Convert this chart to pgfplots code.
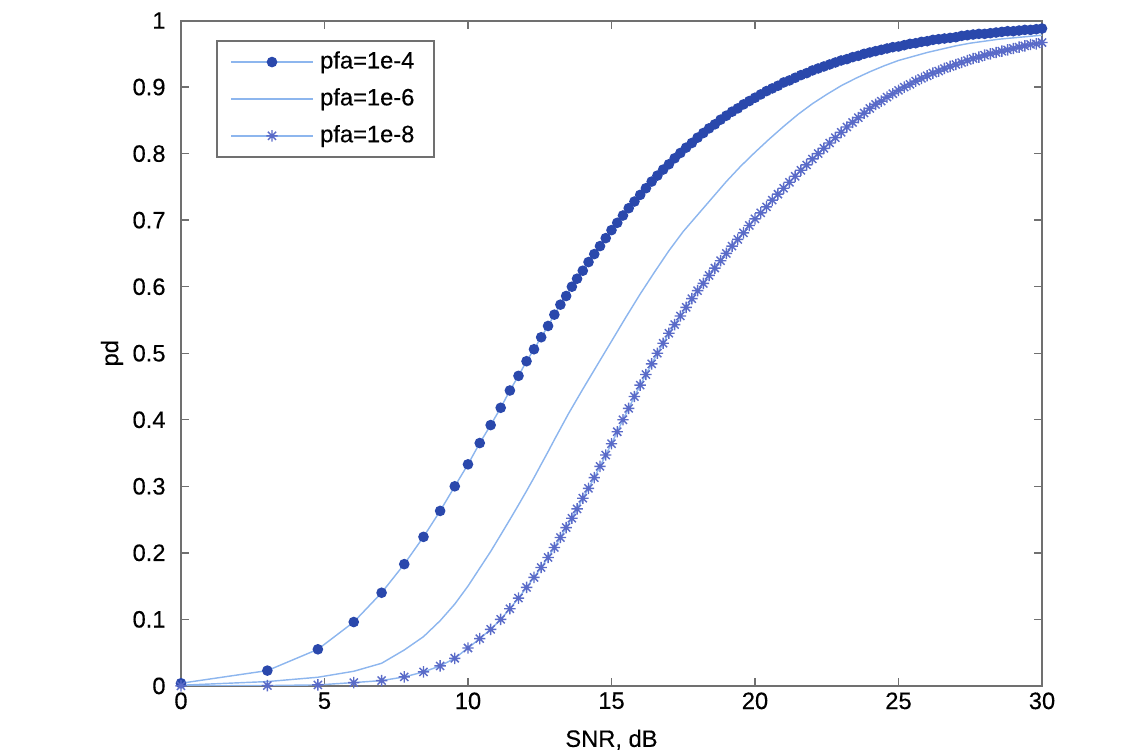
\documentclass[border=0pt]{standalone}
\usepackage{fontspec}
\setmainfont{Liberation Sans}[FakeBold=0.3]
\usepackage{pgfplots}
\pgfplotsset{compat=1.18}
\definecolor{dotblue}{HTML}{2A48AC}
\definecolor{linblue}{HTML}{8DB6EE}
\definecolor{starblue}{HTML}{5A6BC8}
\definecolor{axgray}{HTML}{707070}

% matlab style '*' marker: plus and cross
\pgfdeclareplotmark{mstar}{%
  \pgfpathmoveto{\pgfqpoint{-\pgfplotmarksize}{0pt}}%
  \pgfpathlineto{\pgfqpoint{\pgfplotmarksize}{0pt}}%
  \pgfpathmoveto{\pgfqpoint{0pt}{-\pgfplotmarksize}}%
  \pgfpathlineto{\pgfqpoint{0pt}{\pgfplotmarksize}}%
  \pgfpathmoveto{\pgfqpoint{-.707\pgfplotmarksize}{-.707\pgfplotmarksize}}%
  \pgfpathlineto{\pgfqpoint{.707\pgfplotmarksize}{.707\pgfplotmarksize}}%
  \pgfpathmoveto{\pgfqpoint{-.707\pgfplotmarksize}{.707\pgfplotmarksize}}%
  \pgfpathlineto{\pgfqpoint{.707\pgfplotmarksize}{-.707\pgfplotmarksize}}%
  \pgfusepathqstroke}

\begin{document}
\begin{tikzpicture}
\path[use as bounding box] (-63.35pt,-23.8pt) rectangle (335.7pt,240.1pt);
\begin{axis}[
    scale only axis,
    width=301.4pt, height=232.9pt,
    xmin=0, xmax=30, ymin=0, ymax=1,
    xtick={0,5,...,30},
    ytick={0,0.1,...,1},
    tick align=inside,
    major tick length=2.8pt,
    axis line style={axgray, line width=0.7pt},
    every tick/.style={axgray, line width=0.5pt},
    font=\fontsize{8.3}{10}\selectfont,
    /pgf/number format/assume math mode=true,
    yticklabel style={/pgf/number format/fixed, inner sep=0pt, xshift=-5.2pt},
    xticklabel style={inner sep=0pt, yshift=-2.1pt},
    xlabel={SNR, dB},
    ylabel={pd},
    every axis x label/.style={at={(axis description cs:0.5,-0.081)}, anchor=center},
    every axis y label/.style={at={(axis description cs:-0.0801,0.5)}, anchor=center, rotate=90},
    legend cell align=left,
    legend style={at={(axis description cs:0.0407,0.9707)}, anchor=north west,
        draw=axgray, line width=0.7pt, inner xsep=4.8pt, inner ysep=1.6pt,
        row sep=1.4pt, column sep=0.4pt, font=\fontsize{8.3}{10}\selectfont},
    legend image code/.code={%
        \draw[mark repeat=2,mark phase=2,#1] plot coordinates {(0pt,0pt)(14.2pt,0pt)(28.4pt,0pt)};},
  ]
  % pfa = 1e-4
  \addplot[linblue, line width=0.5pt, mark=*, mark size=1.6pt,
           mark options={fill=dotblue, draw=dotblue}] coordinates {
    (0,0.004)(3.01,0.023)(4.77,0.055)(6.02,0.096)(6.99,0.140)(7.78,0.183)
    (8.45,0.224)(9.03,0.263)(9.54,0.300)(10.0,0.333)(10.41,0.365)(10.79,0.392)
    (11.14,0.418)(11.46,0.444)(11.76,0.466)(12.04,0.488)(12.30,0.506)(12.55,0.524)
    (12.79,0.541)(13.01,0.558)(13.22,0.573)(13.42,0.586)(13.62,0.600)(13.80,0.612)
    (14.0,0.624)(14.2,0.637)(14.4,0.649)(14.6,0.661)(14.8,0.673)(15.0,0.685)
    (15.2,0.696)(15.4,0.707)(15.6,0.718)(15.8,0.728)(16.0,0.738)(16.2,0.748)
    (16.4,0.758)(16.6,0.767)(16.8,0.776)(17.0,0.784)(17.2,0.793)(17.4,0.801)
    (17.6,0.809)(17.8,0.816)(18.0,0.824)(18.2,0.831)(18.4,0.838)(18.6,0.844)
    (18.8,0.851)(19.0,0.857)(19.2,0.863)(19.4,0.868)(19.6,0.874)(19.8,0.879)
    (20.0,0.884)(20.2,0.889)(20.4,0.894)(20.6,0.898)(20.8,0.902)(21.0,0.907)
    (21.2,0.910)(21.4,0.914)(21.6,0.918)(21.8,0.921)(22.0,0.925)(22.2,0.928)
    (22.4,0.931)(22.6,0.934)(22.8,0.937)(23.0,0.940)(23.2,0.942)(23.4,0.945)
    (23.6,0.947)(23.8,0.950)(24.0,0.952)(24.2,0.954)(24.4,0.956)(24.6,0.958)
    (24.8,0.960)(25.0,0.961)(25.2,0.963)(25.4,0.965)(25.6,0.966)(25.8,0.968)
    (26.0,0.969)(26.2,0.971)(26.4,0.972)(26.6,0.973)(26.8,0.974)(27.0,0.975)
    (27.2,0.977)(27.4,0.978)(27.6,0.979)(27.8,0.980)(28.0,0.980)(28.2,0.981)
    (28.4,0.982)(28.6,0.983)(28.8,0.984)(29.0,0.984)(29.2,0.985)(29.4,0.986)
    (29.6,0.986)(29.8,0.987)(30.0,0.988)};
  \addlegendentry{pfa=1e-4}

  % pfa = 1e-6
  \addplot[linblue, line width=0.5pt, mark=none] coordinates {
    (0,0.001)(3.01,0.0065)(4.77,0.013)(6.02,0.022)(6.99,0.034)(7.78,0.054)
    (8.45,0.074)(9.03,0.098)(9.54,0.123)(10.0,0.150)(10.41,0.177)(10.79,0.202)
    (11.14,0.227)(11.46,0.250)(11.76,0.272)(12.04,0.293)(12.30,0.313)(12.55,0.333)
    (12.79,0.352)(13.01,0.370)(13.5,0.409)(14.0,0.446)(14.5,0.482)(15.0,0.518)
    (15.5,0.554)(16.0,0.589)(16.5,0.622)(17.0,0.654)(17.5,0.683)(18.0,0.708)
    (18.5,0.733)(19.0,0.758)(19.5,0.781)(20.0,0.802)(20.5,0.822)(21.0,0.841)
    (21.5,0.859)(22.0,0.875)(22.5,0.889)(23.0,0.902)(23.5,0.913)(24.0,0.923)
    (24.5,0.932)(25.0,0.940)(25.5,0.946)(26.0,0.952)(26.5,0.957)(27.0,0.962)
    (27.5,0.966)(28.0,0.969)(28.5,0.972)(29.0,0.974)(29.5,0.976)(30.0,0.978)};
  \addlegendentry{pfa=1e-6}

  % pfa = 1e-8
  \addplot[linblue, line width=0.5pt, mark=mstar, mark size=2pt,
           mark options={draw=starblue, line width=0.5pt}] coordinates {
    (0,0.000)(3.01,0.0005)(4.77,0.0015)(6.02,0.005)(6.99,0.008)(7.78,0.0135)
    (8.45,0.021)(9.03,0.030)(9.54,0.0415)(10.0,0.057)(10.41,0.071)(10.79,0.085)
    (11.14,0.100)(11.46,0.116)(11.76,0.132)(12.04,0.148)(12.30,0.163)(12.55,0.178)
    (12.79,0.193)(13.01,0.208)(13.22,0.223)(13.42,0.238)(13.62,0.252)(13.80,0.266)
    (14.0,0.282)(14.2,0.297)(14.4,0.313)(14.6,0.330)(14.8,0.347)(15.0,0.364)
    (15.2,0.382)(15.4,0.400)(15.6,0.417)(15.8,0.435)(16.0,0.452)(16.2,0.468)
    (16.4,0.484)(16.6,0.500)(16.8,0.515)(17.0,0.530)(17.2,0.543)(17.4,0.556)
    (17.6,0.569)(17.8,0.582)(18.0,0.594)(18.2,0.605)(18.4,0.617)(18.6,0.628)
    (18.8,0.639)(19.0,0.650)(19.2,0.661)(19.4,0.671)(19.6,0.681)(19.8,0.692)
    (20.0,0.702)(20.2,0.711)(20.4,0.720)(20.6,0.730)(20.8,0.739)(21.0,0.748)
    (21.2,0.757)(21.4,0.766)(21.6,0.775)(21.8,0.783)(22.0,0.792)(22.2,0.800)
    (22.4,0.808)(22.6,0.816)(22.8,0.824)(23.0,0.832)(23.2,0.840)(23.4,0.847)
    (23.6,0.854)(23.8,0.861)(24.0,0.868)(24.2,0.874)(24.4,0.879)(24.6,0.885)
    (24.8,0.890)(25.0,0.895)(25.2,0.900)(25.4,0.904)(25.6,0.909)(25.8,0.913)
    (26.0,0.917)(26.2,0.921)(26.4,0.924)(26.6,0.928)(26.8,0.931)(27.0,0.934)
    (27.2,0.937)(27.4,0.940)(27.6,0.943)(27.8,0.945)(28.0,0.948)(28.2,0.950)
    (28.4,0.952)(28.6,0.954)(28.8,0.956)(29.0,0.958)(29.2,0.960)(29.4,0.962)
    (29.6,0.964)(29.8,0.965)(30.0,0.967)};
  \addlegendentry{pfa=1e-8}
\end{axis}
\end{tikzpicture}
\end{document}
